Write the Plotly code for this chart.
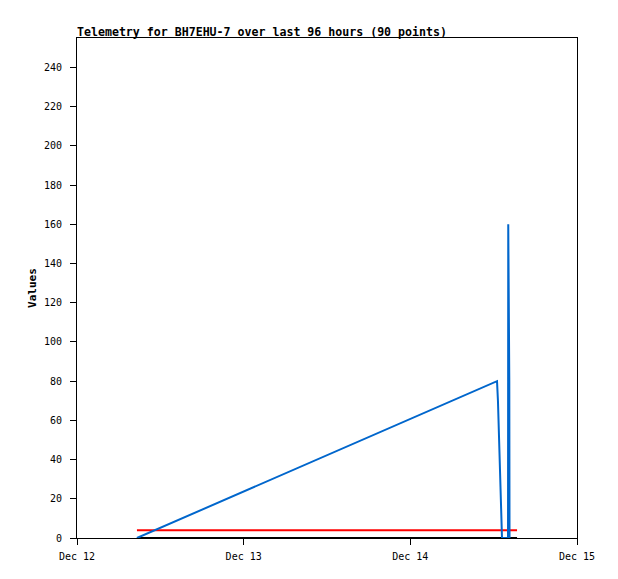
import plotly.graph_objects as go

# Blue series (values)
blue_times = ["2023-12-12 08:38", "2023-12-14 12:29", "2023-12-14 12:37", "2023-12-14 12:46",
              "2023-12-14 12:55", "2023-12-14 13:03", "2023-12-14 13:12", "2023-12-14 14:04",
              "2023-12-14 14:06", "2023-12-14 14:15", "2023-12-14 14:17"]
blue_values = [0, 80, 70, 50, 30, 10, 0, 0, 160, 80, 0]

# Red series (constant)
red_times = ["2023-12-12 08:38", "2023-12-14 15:22"]
red_values = [4, 4]

# Black series (zero)
black_times = ["2023-12-12 08:38", "2023-12-14 15:22"]
black_values = [0, 0]

y_ticks = [0, 20, 40, 60, 80, 100, 120, 140, 160, 180, 200, 220, 240]
x_ticks = ["2023-12-12", "2023-12-13", "2023-12-14", "2023-12-15"]
x_tick_labels = ["Dec 12", "Dec 13", "Dec 14", "Dec 15"]

font_family = "DejaVu Sans Mono, Liberation Mono, monospace"

fig = go.Figure()
fig.add_trace(go.Scatter(x=black_times, y=black_values, mode="lines",
                         line=dict(color="#000000", width=2), showlegend=False))
fig.add_trace(go.Scatter(x=red_times, y=red_values, mode="lines",
                         line=dict(color="#FF0000", width=2), showlegend=False))
fig.add_trace(go.Scatter(x=blue_times, y=blue_values, mode="lines",
                         line=dict(color="#0066CC", width=2), showlegend=False))

fig.update_layout(
    width=618, height=579,
    margin=dict(l=69, r=49, t=30, b=49),
    paper_bgcolor="white", plot_bgcolor="white",
    font=dict(family=font_family, size=10, color="#000000"),
    title=dict(text="<b>Telemetry for BH7EHU-7 over last 96 hours (90 points)</b>",
               x=69/618, xanchor="left", y=1-27.5/579, yanchor="bottom",
               font=dict(family=font_family, size=11.6, color="#000000")),
    xaxis=dict(range=["2023-12-12", "2023-12-15"], tickvals=x_ticks, ticktext=x_tick_labels,
               showgrid=False, zeroline=False, showline=True, linecolor="#000000", linewidth=1,
               mirror=True, ticks="outside", ticklen=6, tickcolor="#000000", automargin=False,
               ticklabelstandoff=3),
    yaxis=dict(range=[0, 255], tickvals=y_ticks, showgrid=False, zeroline=False,
               showline=True, linecolor="#000000", linewidth=1, mirror=True,
               ticks="outside", ticklen=6, tickcolor="#000000", automargin=False,
               ticklabelstandoff=6,
               title=dict(text="<b>Values</b>", standoff=5,
                          font=dict(family=font_family, size=11))),
)

fig.write_html("out.html")
